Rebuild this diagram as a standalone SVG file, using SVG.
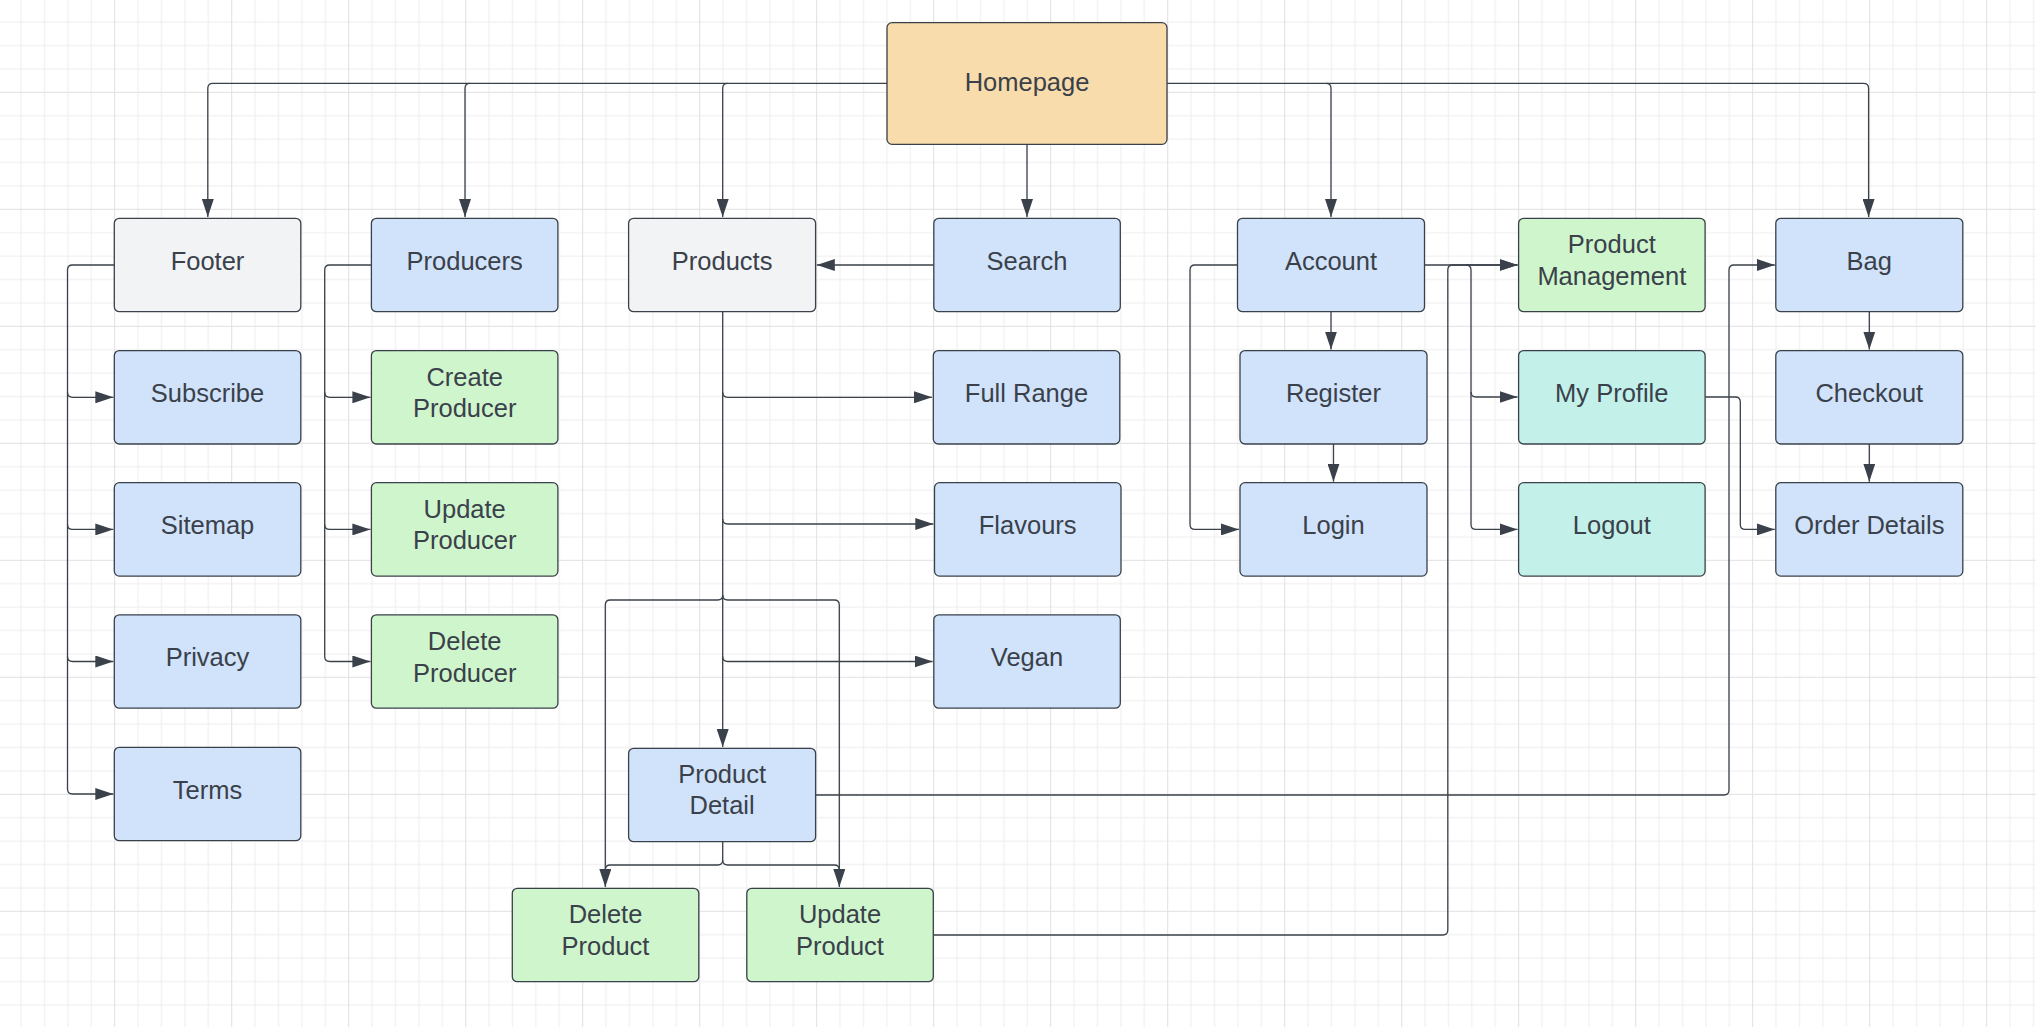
<svg xmlns="http://www.w3.org/2000/svg" width="2036" height="1027" viewBox="0 0 2036 1027">
<defs>
<pattern id="grid" patternUnits="userSpaceOnUse" x="114.2" y="91.8" width="117" height="117">
<rect width="117" height="117" fill="#ffffff"/>
<path d="M23.9,0V117M47.3,0V117M70.7,0V117M94.1,0V117M0,23.9H117M0,47.3H117M0,70.7H117M0,94.1H117" stroke="#eeeeee" stroke-width="1" fill="none"/>
<path d="M0.5,0V117M0,0.5H117" stroke="#e0e0e0" stroke-width="1" fill="none"/>
</pattern>
<marker id="arr" markerUnits="userSpaceOnUse" markerWidth="19" markerHeight="12" refX="18" refY="6" orient="auto">
<path d="M0,0L18,6L0,12z" fill="#3a414a"/>
</marker>
<style>
.n rect{stroke:#3a414a;stroke-width:1.3}
.n text{font-family:"Liberation Sans",Arial,sans-serif;font-size:25.5px;fill:#3a414a;text-anchor:middle}
.orange{fill:#f8dcab}
.blue{fill:#d1e3fb}
.gray{fill:#f2f3f5}
.green{fill:#cff5cd}
.teal{fill:#c3f1ea}
#connectors path{fill:none;stroke:#3a414a;stroke-width:1.3;marker-end:url(#arr)}
#connectors path.j{marker-end:none}
</style>
</defs>
<rect width="2036" height="1027" fill="url(#grid)"/>

<g id="connectors">
<path d="M887,83.3H212.8Q207.8,83.3 207.8,88.3V217"/>
<path d="M470,83.3Q465,83.3 465,88.3V217"/>
<path d="M727.7,83.3Q722.7,83.3 722.7,88.3V217"/>
<path d="M1027,144.3V217"/>
<path d="M1167,83.3H1863.6Q1868.6,83.3 1868.6,88.3V217"/>
<path d="M1326,83.3Q1331,83.3 1331,88.3V217"/>
<path d="M933.8,265H816.8"/>
<path d="M114.3,265H72.5Q67.5,265 67.5,270V789Q67.5,794 72.5,794H113.3"/>
<path d="M67.5,392.3Q67.5,397.3 72.5,397.3H113.3"/>
<path d="M67.5,524.4Q67.5,529.4 72.5,529.4H113.3"/>
<path d="M67.5,656.5Q67.5,661.5 72.5,661.5H113.3"/>
<path d="M371.4,265H329.7Q324.7,265 324.7,270V656.5Q324.7,661.5 329.7,661.5H370.4"/>
<path d="M324.7,392.3Q324.7,397.3 329.7,397.3H370.4"/>
<path d="M324.7,524.4Q324.7,529.4 329.7,529.4H370.4"/>
<path d="M722.7,311.7V747"/>
<path d="M722.7,392.3Q722.7,397.3 727.7,397.3H932"/>
<path d="M722.7,519Q722.7,524 727.7,524H933.3"/>
<path d="M722.7,656.5Q722.7,661.5 727.7,661.5H932.6"/>
<path d="M722.7,595Q722.7,600 717.7,600H610.3Q605.3,600 605.3,605V887"/>
<path d="M722.7,595Q722.7,600 727.7,600H834.3Q839.3,600 839.3,605V887"/>
<path class="j" d="M722.7,841.7V860Q722.7,865 717.7,865H610.3Q605.3,865 605.3,870"/>
<path class="j" d="M722.7,860Q722.7,865 727.7,865H834.3Q839.3,865 839.3,870"/>
<path d="M815.6,795H1724Q1729,795 1729,790V270Q1729,265 1734,265H1774.8"/>
<path d="M933.8,935H1442.8Q1447.8,935 1447.8,930V270Q1447.8,265 1452.8,265H1517.5"/>
<path d="M1424.5,265H1517.5"/>
<path d="M1466,265Q1471,265 1471,270V524.4Q1471,529.4 1476,529.4H1517.5"/>
<path d="M1471,392Q1471,397 1476,397H1517.5"/>
<path d="M1237.5,265H1195Q1190,265 1190,270V524.4Q1190,529.4 1195,529.4H1239"/>
<path d="M1331,311.7V349.6"/>
<path d="M1333.5,444V481.7"/>
<path d="M1705.3,397H1735.3Q1740.3,397 1740.3,402V524.4Q1740.3,529.4 1745.3,529.4H1774.8"/>
<path d="M1869.3,311.7V349.6"/>
<path d="M1869.3,444V481.7"/>
</g>

<g id="homepage" class="n"><rect class="orange" x="887" y="22.7" width="280" height="121.6" rx="5"/><text x="1027" y="90.5">Homepage</text></g>

<g id="footer" class="n"><rect class="gray" x="114.3" y="218.3" width="186.5" height="93.4" rx="5"/><text x="207.5" y="270">Footer</text></g>
<g id="subscribe" class="n"><rect class="blue" x="114.3" y="350.6" width="186.5" height="93.4" rx="5"/><text x="207.5" y="402">Subscribe</text></g>
<g id="sitemap" class="n"><rect class="blue" x="114.3" y="482.7" width="186.5" height="93.4" rx="5"/><text x="207.5" y="534.1">Sitemap</text></g>
<g id="privacy" class="n"><rect class="blue" x="114.3" y="614.8" width="186.5" height="93.4" rx="5"/><text x="207.5" y="666.2">Privacy</text></g>
<g id="terms" class="n"><rect class="blue" x="114.3" y="747.3" width="186.5" height="93.4" rx="5"/><text x="207.5" y="798.7">Terms</text></g>

<g id="producers" class="n"><rect class="blue" x="371.4" y="218.3" width="186.5" height="93.4" rx="5"/><text x="464.7" y="270">Producers</text></g>
<g id="create-producer" class="n"><rect class="green" x="371.4" y="350.6" width="186.5" height="93.4" rx="5"/><text x="464.7" y="385.7">Create</text><text x="464.7" y="417.3">Producer</text></g>
<g id="update-producer" class="n"><rect class="green" x="371.4" y="482.7" width="186.5" height="93.4" rx="5"/><text x="464.7" y="517.8">Update</text><text x="464.7" y="549.4">Producer</text></g>
<g id="delete-producer" class="n"><rect class="green" x="371.4" y="614.8" width="186.5" height="93.4" rx="5"/><text x="464.7" y="649.9">Delete</text><text x="464.7" y="681.5">Producer</text></g>

<g id="products" class="n"><rect class="gray" x="628.6" y="218.3" width="187" height="93.4" rx="5"/><text x="722.1" y="270">Products</text></g>
<g id="product-detail" class="n"><rect class="blue" x="628.6" y="748.3" width="187" height="93.4" rx="5"/><text x="722.1" y="783">Product</text><text x="722.1" y="814.3">Detail</text></g>
<g id="delete-product" class="n"><rect class="green" x="512.3" y="888.3" width="186.5" height="93.4" rx="5"/><text x="605.5" y="923.3">Delete</text><text x="605.5" y="954.8">Product</text></g>
<g id="update-product" class="n"><rect class="green" x="746.8" y="888.3" width="186.5" height="93.4" rx="5"/><text x="840" y="923.3">Update</text><text x="840" y="954.8">Product</text></g>

<g id="search" class="n"><rect class="blue" x="933.8" y="218.3" width="186.5" height="93.4" rx="5"/><text x="1027" y="270">Search</text></g>
<g id="full-range" class="n"><rect class="blue" x="933.3" y="350.6" width="186.5" height="93.4" rx="5"/><text x="1026.5" y="402">Full Range</text></g>
<g id="flavours" class="n"><rect class="blue" x="934.5" y="482.7" width="186.5" height="93.4" rx="5"/><text x="1027.7" y="534.1">Flavours</text></g>
<g id="vegan" class="n"><rect class="blue" x="933.8" y="614.8" width="186.5" height="93.4" rx="5"/><text x="1027" y="666.2">Vegan</text></g>

<g id="account" class="n"><rect class="blue" x="1237.5" y="218.3" width="187" height="93.4" rx="5"/><text x="1331" y="270">Account</text></g>
<g id="register" class="n"><rect class="blue" x="1240" y="350.6" width="187" height="93.4" rx="5"/><text x="1333.5" y="402">Register</text></g>
<g id="login" class="n"><rect class="blue" x="1240" y="482.7" width="187" height="93.4" rx="5"/><text x="1333.5" y="534.1">Login</text></g>

<g id="product-management" class="n"><rect class="green" x="1518.6" y="218.3" width="186.5" height="93.4" rx="5"/><text x="1611.8" y="253.3">Product</text><text x="1611.8" y="284.9">Management</text></g>
<g id="my-profile" class="n"><rect class="teal" x="1518.6" y="350.6" width="186.5" height="93.4" rx="5"/><text x="1611.8" y="402">My Profile</text></g>
<g id="logout" class="n"><rect class="teal" x="1518.6" y="482.7" width="186.5" height="93.4" rx="5"/><text x="1611.8" y="534.1">Logout</text></g>

<g id="bag" class="n"><rect class="blue" x="1775.8" y="218.3" width="187" height="93.4" rx="5"/><text x="1869.3" y="270">Bag</text></g>
<g id="checkout" class="n"><rect class="blue" x="1775.8" y="350.6" width="187" height="93.4" rx="5"/><text x="1869.3" y="402">Checkout</text></g>
<g id="order-details" class="n"><rect class="blue" x="1775.8" y="482.7" width="187" height="93.4" rx="5"/><text x="1869.3" y="534.1">Order Details</text></g>
</svg>
